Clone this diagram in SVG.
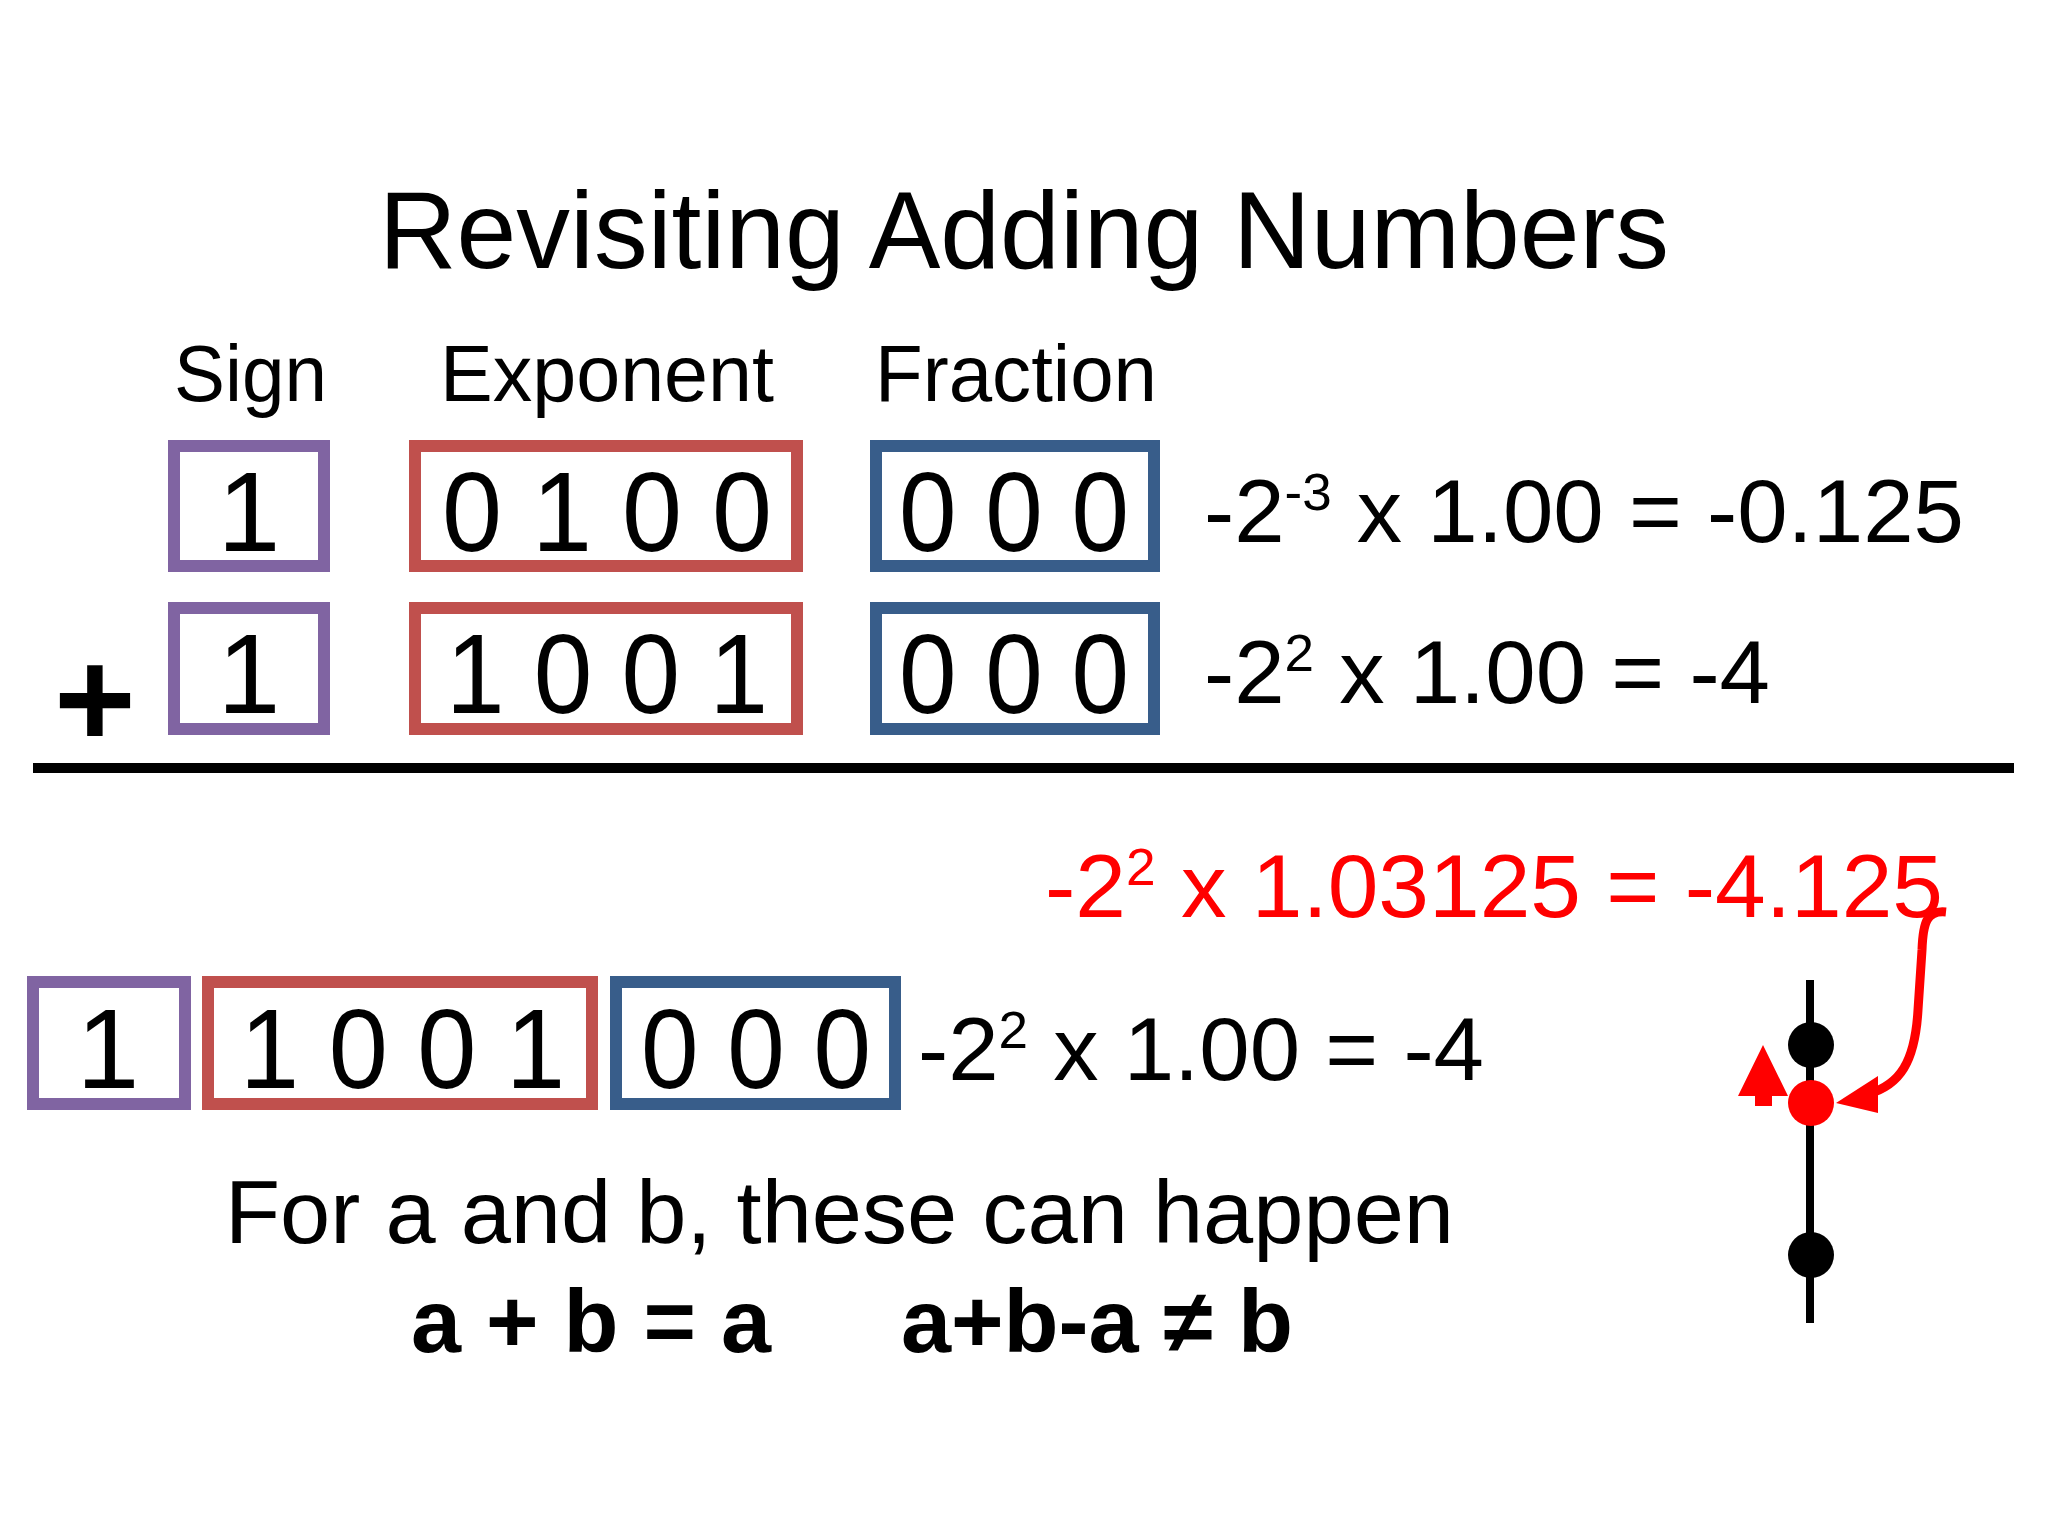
<svg xmlns="http://www.w3.org/2000/svg" width="2048" height="1536" viewBox="0 0 2048 1536">
<style>
text{font-family:"Liberation Sans",Arial,sans-serif;fill:#000}
.title{font-size:110px}
.hdr{font-size:80px}
.dig{font-size:113px}
.eq{font-size:89px}
.sup{font-size:52px}
.red{fill:#FF0000}
.bold{font-weight:bold}
.box{fill:#fff;stroke-width:12}
.sgn{stroke:#8064A2}
.exp{stroke:#C0504D}
.frc{stroke:#385D8A}
</style>
<rect width="2048" height="1536" fill="#fff"/>
<text class="title" x="379" y="268" textLength="1290" lengthAdjust="spacingAndGlyphs">Revisiting Adding Numbers</text>
<text class="hdr" x="174" y="401" textLength="153" lengthAdjust="spacingAndGlyphs">Sign</text>
<text class="hdr" x="440" y="401" textLength="334" lengthAdjust="spacingAndGlyphs">Exponent</text>
<text class="hdr" x="875" y="401" textLength="282" lengthAdjust="spacingAndGlyphs">Fraction</text>

<g id="row1">
<g id="r1-sign"><rect class="box sgn" x="174" y="446" width="150" height="120"/><text class="dig" x="249" y="551" text-anchor="middle">1</text></g>
<g id="r1-exp"><rect class="box exp" x="415" y="446" width="382" height="120"/><text class="dig" x="442" y="551" textLength="330" lengthAdjust="spacingAndGlyphs">0 1 0 0</text></g>
<g id="r1-frac"><rect class="box frc" x="876" y="446" width="278" height="120"/><text class="dig" x="899" y="551" textLength="230" lengthAdjust="spacingAndGlyphs">0 0 0</text></g>
<text id="r1-eq" class="eq" x="1204" y="542" textLength="760" lengthAdjust="spacingAndGlyphs">-2<tspan class="sup" dy="-32">-3</tspan><tspan dy="32"> x 1.00 = -0.125</tspan></text>
</g>

<g id="row2">
<text id="plus" class="bold" x="95" y="747" font-size="140" text-anchor="middle">+</text>
<g id="r2-sign"><rect class="box sgn" x="174" y="608" width="150" height="121"/><text class="dig" x="249" y="713" text-anchor="middle">1</text></g>
<g id="r2-exp"><rect class="box exp" x="415" y="608" width="382" height="121"/><text class="dig" x="446" y="713" textLength="322" lengthAdjust="spacingAndGlyphs">1 0 0 1</text></g>
<g id="r2-frac"><rect class="box frc" x="876" y="608" width="278" height="121"/><text class="dig" x="899" y="713" textLength="230" lengthAdjust="spacingAndGlyphs">0 0 0</text></g>
<text id="r2-eq" class="eq" x="1204" y="703" textLength="566" lengthAdjust="spacingAndGlyphs">-2<tspan class="sup" dy="-32">2</tspan><tspan dy="32"> x 1.00 = -4</tspan></text>
</g>

<line x1="33" y1="768" x2="2014" y2="768" stroke="#000" stroke-width="10"/>

<text id="result-exact" class="eq red" x="1045" y="917" textLength="898" lengthAdjust="spacingAndGlyphs">-2<tspan class="sup" dy="-32">2</tspan><tspan dy="32"> x 1.03125 = -4.125</tspan></text>

<g id="row3">
<g id="r3-sign"><rect class="box sgn" x="33" y="982" width="152" height="122"/><text class="dig" x="108" y="1088" text-anchor="middle">1</text></g>
<g id="r3-exp"><rect class="box exp" x="208" y="982" width="384" height="122"/><text class="dig" x="240" y="1088" textLength="325" lengthAdjust="spacingAndGlyphs">1 0 0 1</text></g>
<g id="r3-frac"><rect class="box frc" x="616" y="982" width="279" height="122"/><text class="dig" x="641" y="1088" textLength="230" lengthAdjust="spacingAndGlyphs">0 0 0</text></g>
<text id="r3-eq" class="eq" x="918" y="1080" textLength="566" lengthAdjust="spacingAndGlyphs">-2<tspan class="sup" dy="-32">2</tspan><tspan dy="32"> x 1.00 = -4</tspan></text>
</g>

<text class="eq" x="225" y="1243" font-size="92" textLength="1229" lengthAdjust="spacingAndGlyphs">For a and b, these can happen</text>
<text class="eq bold" x="411" y="1352" font-size="88" textLength="360" lengthAdjust="spacingAndGlyphs">a + b = a</text>
<text class="eq bold" x="901" y="1352" font-size="88" textLength="392" lengthAdjust="spacingAndGlyphs">a+b-a ≠ b</text>

<g id="numberline">
<line x1="1810" y1="980" x2="1810" y2="1323" stroke="#000" stroke-width="8"/>
<circle id="pt-top" cx="1811" cy="1045" r="23" fill="#000"/>
<circle id="pt-bottom" cx="1811" cy="1255" r="23" fill="#000"/>
<circle id="pt-red" cx="1811" cy="1103" r="23" fill="#FF0000"/>
<polygon id="up-arrow" points="1763,1045 1788,1096 1772,1096 1772,1106 1755,1106 1755,1096 1738,1096" fill="#FF0000"/>
</g>

<g id="connectors">
<path d="M1946,912 C1927,910 1923,922 1922,950 L1918,1010 C1915,1062 1900,1085 1868,1094" fill="none" stroke="#FF0000" stroke-width="9"/>
<polygon points="1836,1103 1878,1076 1878,1113" fill="#FF0000"/>
</g>
</svg>
